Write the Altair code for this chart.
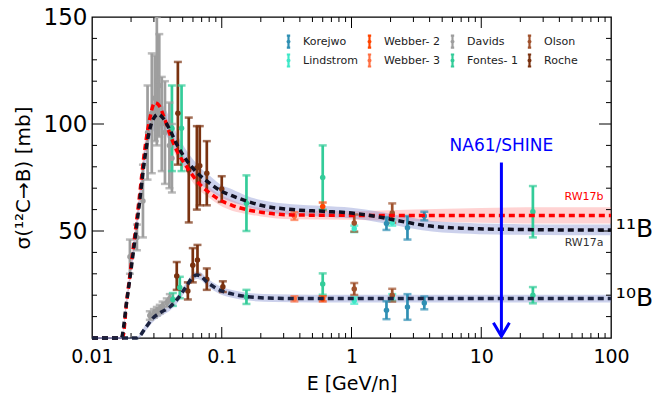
import altair as alt
import pandas as pd

W, H = 519, 321
FONT = "DejaVu Sans"

# ---------------- model curves ----------------
# RW17a, 11B
E_11a = [0.01, 0.0168, 0.0185, 0.0207, 0.0231, 0.0255, 0.028, 0.0305, 0.0325, 0.035, 0.04, 0.0455,
         0.0537, 0.065, 0.08, 0.0965, 0.12, 0.155, 0.2, 0.35, 0.6, 1.0, 1.64, 2.0, 2.7, 3.5, 5, 7, 9.6,
         20, 50, 100]
S_11a = [0, 0, 17, 39, 62, 84, 98, 103.5, 104.5, 103, 97, 90, 83, 77, 72.5, 69, 66.5, 64, 62, 60,
         59.2, 58.4, 56.5, 55.5, 54, 52.8, 51.8, 51.3, 51, 50.7, 50.5, 50.5]
B_11a = [0.5, 0.5, 2, 3, 4, 5, 5.5, 6, 6, 6, 5.5, 5, 4.5, 4, 3.5, 3, 3, 2.5, 2.5, 2.5, 2.5, 2.5, 2.5,
         2.5, 2.5, 2.5, 2.5, 2.5, 2.5, 2.5, 2.5, 2.5]
# RW17b, 11B
E_11b = [0.01, 0.0172, 0.0185, 0.0207, 0.0231, 0.0255, 0.028, 0.0305, 0.033, 0.036, 0.04, 0.0455,
         0.0537, 0.065, 0.08, 0.0965, 0.12, 0.155, 0.2, 0.35, 1.0, 3, 10, 30, 100]
S_11b = [0, 0, 17, 41, 65, 88, 103, 110, 108.5, 103, 95, 87, 80, 73, 68, 64.5, 62, 60, 58.8, 57.5,
         57.3, 57.3, 57.3, 57.3, 57.3]
B_11b = [0.5, 0.5, 2, 3, 3.5, 4, 4, 4, 4, 4, 3.5, 3.5, 3, 3, 2.5, 2.5, 2.5, 2, 2, 2, 2, 2.8, 3.5,
         3.8, 3.8]
# RW17a, 10B
E_10 = [0.01, 0.0222, 0.026, 0.0295, 0.034, 0.0398, 0.045, 0.0492, 0.0545, 0.0589, 0.0642, 0.07,
        0.0767, 0.0865, 0.0965, 0.12, 0.155, 0.25, 0.5, 1, 10, 100]
S_10 = [0, 0, 5, 9.3, 12, 14.5, 17.8, 21, 25, 28, 29.4, 28.6, 26.2, 24, 22.4, 20.6, 19.4, 18.6,
        18.4, 18.4, 18.4, 18.4]
B_10 = [0.5, 0.5, 1.5, 1.8, 1.8, 1.8, 1.8, 1.8, 1.8, 1.8, 1.8, 1.8, 1.8, 1.8, 1.8, 1.8, 1.8, 1.8,
        1.8, 1.8, 1.8, 1.8]

# ---------------- data points ----------------
sources = ["Korejwo", "Webber- 2", "Davids", "Olson", "Lindstrom", "Webber- 3", "Fontes- 1", "Roche"]
colors = ["#2f8fb3", "#ff4500", "#9e9e9e", "#a0522d", "#3fe8c8", "#ff7043", "#33cc99", "#7a3210"]

korejwo_E = [1.86, 2.70, 3.64, 1.86, 2.70, 3.64]
korejwo_S = [53.5, 51.5, 57.0, 13.0, 14.5, 16.4]
korejwo_D = [3.0, 5.5, 2.0, 4.2, 6.0, 3.0]

lindstrom_E = [1.05, 2.06, 1.05, 2.06]
lindstrom_S = [51.0, 54.0, 17.5, 19.0]
lindstrom_D = [1.5, 1.5, 1.5, 1.5]

webber2_E = [0.6, 0.6]
webber2_S = [61.5, 18.3]
webber2_D = [1.8, 1.2]

webber3_E = [0.363, 0.363]
webber3_S = [57.0, 18.3]
webber3_D = [1.8, 1.2]

davids_E = [0.0196, 0.0222, 0.0247, 0.0268, 0.0289, 0.0305, 0.0316, 0.033, 0.0345, 0.0365, 0.0395,
            0.0413, 0.0279, 0.030, 0.0316, 0.0333, 0.035, 0.0377, 0.0398]
davids_S = [38, 47, 64, 96, 105, 112, 120, 118, 100, 96, 90, 84, 10.5, 11.5, 12.5, 13.5, 15, 16.5, 18.5]
davids_D = [8, 6, 17, 22, 28, 20, 30, 24, 22, 24, 20, 16, 2, 2, 2, 2, 2, 2, 2]

fontes_E = [0.0413, 0.049, 0.155, 0.6, 25, 0.042, 0.0475, 0.155, 0.6, 25]
fontes_S = [98, 98, 63, 75, 59, 18, 23.6, 19.2, 25.2, 20]
fontes_D = [20, 20, 13, 15, 12, 3, 5, 3.3, 5, 3.8]

olson_E = [1.05, 2.06, 1.05, 2.06]
olson_S = [53.7, 58.4, 22.9, 20.0]
olson_D = [4.0, 4.5, 2.8, 3.0]

roche_E = [0.0459, 0.0557, 0.0643, 0.0677, 0.0767, 0.1, 0.045, 0.0548, 0.0598, 0.065, 0.0767, 0.102]
roche_S = [105, 78.5, 79.5, 80.5, 77, 69.6, 29, 22, 34, 36.5, 27.5, 24]
roche_D = [24, 24.5, 19.5, 18.5, 15, 6, 6.5, 4, 8, 7, 5, 2.5]

# axis tick positions
x_major = [0.1, 1, 10]
x_minor = [m * d for d in [0.01, 0.1, 1, 10] for m in range(2, 10)]
y_major = [50, 100]
y_minor = [v for v in range(10, 150, 10) if v not in (50, 100)]

# annotations
ann_E = [14.3]
ann_top = [82]
ann_bot = [0.8]
label_txt = ["RW17b", "RW17a"]
label_E = [62, 62]
label_S = [66, 44.4]
label_col = ["#ff0000", "#333333"]
iso_txt = ["¹¹B", "¹⁰B"]
iso_E = [109, 109]
iso_S = [51, 18.5]

# ---------------- build tables ----------------
def curve(E, S, B):
    return pd.DataFrame({"E": E, "s": S, "lo": [s - b for s, b in zip(S, B)],
                         "hi": [s + b for s, b in zip(S, B)]})

c11a = curve(E_11a, S_11a, B_11a)
c11b = curve(E_11b, S_11b, B_11b)
c10 = curve(E_10, S_10, B_10)

rows = []
for name, Es, Ss, Ds in [("Korejwo", korejwo_E, korejwo_S, korejwo_D),
                         ("Lindstrom", lindstrom_E, lindstrom_S, lindstrom_D),
                         ("Webber- 2", webber2_E, webber2_S, webber2_D),
                         ("Webber- 3", webber3_E, webber3_S, webber3_D),
                         ("Davids", davids_E, davids_S, davids_D),
                         ("Fontes- 1", fontes_E, fontes_S, fontes_D),
                         ("Olson", olson_E, olson_S, olson_D),
                         ("Roche", roche_E, roche_S, roche_D)]:
    for e, s, d in zip(Es, Ss, Ds):
        rows.append({"src": name, "E": e, "s": s, "lo": s - d, "hi": s + d})
pts = pd.DataFrame(rows)

xs = alt.Scale(type="log", domain=[0.01, 100], padding=0, nice=False)
ys = alt.Scale(domain=[0, 150], nice=False, zero=False, padding=0)

IBEAM = "M-0.28,-1L0.28,-1M0,-1L0,1M-0.28,1L0.28,1M-0.15,0A0.15,0.15,0,1,1,0.15,0A0.15,0.15,0,1,1,-0.15,0"
color_scale = alt.Scale(domain=sources, range=colors)
legend = alt.Legend(title=None, orient="none", legendX=189, legendY=17, columns=4,
                    direction="horizontal", symbolType=IBEAM, symbolSize=144,
                    symbolStrokeWidth=2.2, labelFont=FONT, labelFontSize=11, labelColor="#222222",
                    labelOffset=7, columnPadding=4, rowPadding=-2, padding=0, labelLimit=0)

x_axis = alt.Axis(values=[0.01, 0.1, 1, 10, 100], format="~g", ticks=False, domain=False,
                  grid=False, labelFontSize=19, labelPadding=9, labelColor="black",
                  labelFlush=False, labelOverlap=False,
                  title="E [GeV/n]", titleFontSize=19, titleFontWeight="normal", titlePadding=8,
                  titleColor="black", labelFont=FONT, titleFont=FONT)
y_axis = alt.Axis(values=[50, 100, 150], ticks=False, domain=False, grid=False, labelFontSize=23,
                  labelPadding=5, labelColor="black", labelFlush=False, labelOverlap=False,
                  title="σ(¹²C→B)  [mb]", titleFontSize=20,
                  titleFontWeight="normal", titlePadding=10, titleColor="black",
                  labelFont=FONT, titleFont=FONT)


def X(field):
    return alt.X(field, type="quantitative", scale=xs, axis=x_axis)


def Y(field):
    return alt.Y(field, type="quantitative", scale=ys, axis=y_axis)


band_b = alt.Chart(c11b).mark_area(color="#ff8080", opacity=0.35, interpolate="monotone").encode(
    x=X("E"), y=Y("lo"), y2="hi")
band_a = alt.Chart(c11a).mark_area(color="#7f8ccf", opacity=0.4, interpolate="monotone").encode(
    x=X("E"), y=Y("lo"), y2="hi")
band_10 = alt.Chart(c10).mark_area(color="#7f8ccf", opacity=0.4, interpolate="monotone").encode(
    x=X("E"), y=Y("lo"), y2="hi")

err_rule = alt.Chart(pts).mark_rule(strokeWidth=2.7, clip=True).encode(
    x=X("E"), y=Y("lo"), y2="hi",
    color=alt.Color("src:N", scale=color_scale, legend=legend))
cap_lo = alt.Chart(pts).mark_tick(orient="horizontal", size=8, thickness=2.5, clip=True).encode(
    x=X("E"), y=Y("lo"), color=alt.Color("src:N", scale=color_scale, legend=None))
cap_hi = alt.Chart(pts).mark_tick(orient="horizontal", size=8, thickness=2.5, clip=True).encode(
    x=X("E"), y=Y("hi"), color=alt.Color("src:N", scale=color_scale, legend=None))
dots = alt.Chart(pts).mark_circle(size=30, opacity=1, clip=True).encode(
    x=X("E"), y=Y("s"), color=alt.Color("src:N", scale=color_scale, legend=None))

line_b = alt.Chart(c11b).mark_line(color="#ff0000", strokeWidth=3.5, strokeDash=[6, 4],
                                   interpolate="monotone").encode(x=X("E"), y=Y("s"))
line_a = alt.Chart(c11a).mark_line(color="#111122", strokeWidth=3.5, strokeDash=[6, 4],
                                   interpolate="monotone").encode(x=X("E"), y=Y("s"))
line_10 = alt.Chart(c10).mark_line(color="#1c2340", strokeWidth=3.5, strokeDash=[6, 4],
                                   interpolate="monotone").encode(x=X("E"), y=Y("s"))

# ticks drawn inside the frame
txM = pd.DataFrame({"E": x_major})
txm = pd.DataFrame({"E": x_minor})
tyM = pd.DataFrame({"s": y_major})
tym = pd.DataFrame({"s": y_minor})


def xt(df, y0, y1):
    return alt.Chart(df).mark_rule(color="black", strokeWidth=1).encode(
        x=X("E"), y=alt.value(y0), y2=alt.value(y1))


def yt(df, x0, x1):
    return alt.Chart(df).mark_rule(color="black", strokeWidth=1).encode(
        y=Y("s"), x=alt.value(x0), x2=alt.value(x1))


ticks = [xt(txM, H, H - 11), xt(txm, H, H - 5), xt(txM, 0, 11), xt(txm, 0, 5),
         yt(tyM, 0, 12), yt(tym, 0, 5), yt(tyM, W, W - 12), yt(tym, W, W - 5)]

arrow_df = pd.DataFrame({"E": ann_E, "top": ann_top, "bot": ann_bot})
arrow_line = alt.Chart(arrow_df).mark_rule(color="#0000ff", strokeWidth=3).encode(
    x=X("E"), y=Y("top"), y2="bot")
arrow_head = alt.Chart(arrow_df).mark_point(shape="M-1,-1.7L0,0L1,-1.7", filled=False,
                                            color="#0000ff", strokeWidth=3, size=256,
                                            opacity=1).encode(x=X("E"), y=Y("bot"))
na61 = alt.Chart(arrow_df).mark_text(text="NA61/SHINE", color="#0000ff", fontSize=17,
                                     font=FONT, baseline="bottom", dy=-8).encode(
    x=X("E"), y=Y("top"))

lab_df = pd.DataFrame({"E": label_E, "s": label_S, "t": label_txt, "c": label_col})
labs = alt.Chart(lab_df).mark_text(fontSize=11, font=FONT).encode(
    x=X("E"), y=Y("s"), text="t:N", color=alt.Color("c:N", scale=None, legend=None))

iso_df = pd.DataFrame({"E": iso_E, "s": iso_S, "t": iso_txt})
isos = alt.Chart(iso_df).mark_text(fontSize=25, font=FONT, align="left", baseline="middle",
                                   color="black").encode(x=X("E"), y=Y("s"), text="t:N")

chart = alt.layer(
    band_b, band_a, band_10, err_rule, cap_lo, cap_hi, dots, line_b, line_a, line_10,
    *ticks, arrow_line, arrow_head, na61, labs, isos
).properties(
    width=W, height=H,
    padding={"left": 92, "top": 17, "right": 44, "bottom": 58},
    autosize=alt.AutoSizeParams(type="none"),
    background="white",
).configure_view(stroke="black", strokeWidth=1.3)

chart.save("out.html", embed_options={"renderer": "svg", "actions": False})
